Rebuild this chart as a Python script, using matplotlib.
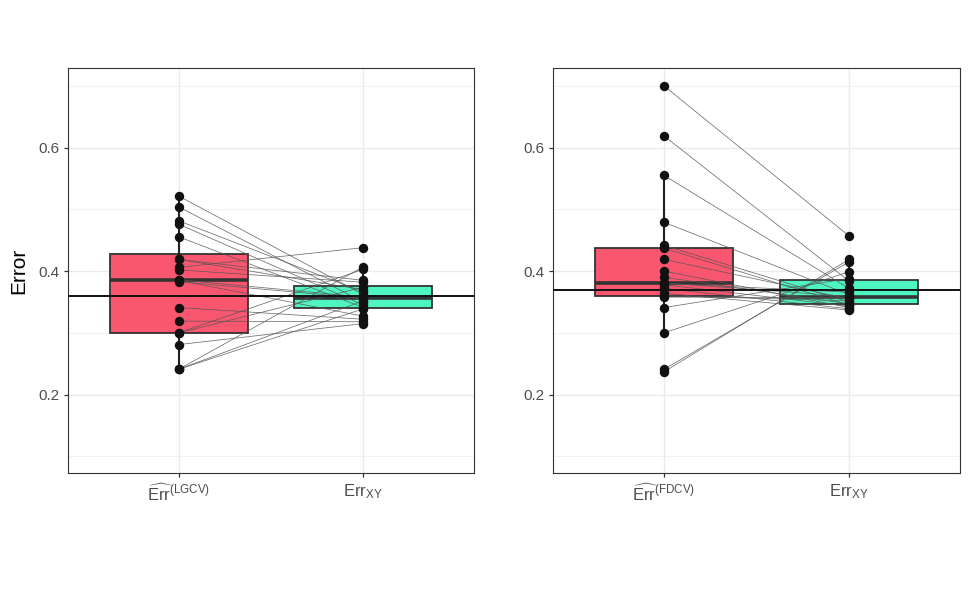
import numpy as np
import matplotlib.pyplot as plt

plt.rcParams['font.family'] = ['Liberation Sans', 'DejaVu Sans']
plt.rcParams['mathtext.fontset'] = 'custom'
plt.rcParams['mathtext.rm'] = 'Liberation Sans'
plt.rcParams['mathtext.it'] = 'Liberation Sans:italic'
plt.rcParams['mathtext.bf'] = 'Liberation Sans:bold'

# ----- datos (pares estimado -> verdadero) -----
lgcv_est = [0.5216, 0.504, 0.4815, 0.476, 0.4556, 0.419, 0.419, 0.406, 0.402, 0.386,
            0.385, 0.383, 0.341, 0.319, 0.300, 0.300, 0.281, 0.241, 0.241, 0.241]
lgcv_xy = [0.362, 0.350, 0.366, 0.345, 0.341, 0.385, 0.370, 0.438, 0.382, 0.358,
           0.327, 0.356, 0.322, 0.318, 0.374, 0.403, 0.315, 0.407, 0.352, 0.339]

fdcv_est = [0.700, 0.619, 0.555, 0.479, 0.4416, 0.437, 0.419, 0.400, 0.390, 0.381,
            0.380, 0.378, 0.372, 0.364, 0.360, 0.358, 0.341, 0.300, 0.241, 0.237]
fdcv_xy = [0.457, 0.384, 0.372, 0.362, 0.350, 0.345, 0.355, 0.341, 0.347, 0.359,
           0.366, 0.343, 0.339, 0.337, 0.352, 0.357, 0.388, 0.399, 0.415, 0.419]

left_labels = [r'$\widehat{\mathrm{Err}}^{(\mathrm{LGCV})}$', r'$\mathrm{Err}_{\mathrm{XY}}$']
right_labels = [r'$\widehat{\mathrm{Err}}^{(\mathrm{FDCV})}$', r'$\mathrm{Err}_{\mathrm{XY}}$']

y_ticks = [0.2, 0.4, 0.6]
y_minor = [0.1, 0.3, 0.5, 0.7]

RED = '#F9576F'
TEAL = '#4FF5C1'


def draw_panel(ax, est, truth, labels):
    est = np.asarray(est)
    truth = np.asarray(truth)

    for y in y_minor:
        ax.axhline(y, color='#F0F0F0', lw=0.6, zorder=0)
    for y in y_ticks:
        ax.axhline(y, color='#EBEBEB', lw=1.0, zorder=0)
    for x in (1, 2):
        ax.axvline(x, color='#EBEBEB', lw=1.0, zorder=0)

    bp = ax.boxplot([est, truth], positions=[1, 2], widths=0.75, patch_artist=True,
                    showfliers=False, showcaps=False,
                    boxprops=dict(edgecolor='#333333', lw=1.3),
                    whiskerprops=dict(color='#222222', lw=1.5),
                    medianprops=dict(color='#333333', lw=2.6),
                    zorder=1)
    for patch, c in zip(bp['boxes'], [RED, TEAL]):
        patch.set_facecolor(c)

    for a, b in zip(est, truth):
        ax.plot([1, 2], [a, b], color='#555555', lw=0.55, alpha=0.85, zorder=2)

    ax.axhline(truth.mean(), color='#111111', lw=1.4, zorder=3)

    ax.scatter(np.ones(len(est)), est, s=46, color='#111111', zorder=5, lw=0)
    ax.scatter(np.full(len(truth), 2), truth, s=46, color='#111111', zorder=5, lw=0)

    ax.set_xlim(0.4, 2.6)
    ax.set_ylim(0.073, 0.729)
    ax.set_xticks([1, 2])
    ax.set_xticklabels(labels)
    ax.set_yticks(y_ticks)
    ax.set_yticklabels([f'{v:.1f}' for v in y_ticks])
    ax.tick_params(direction='out', length=3, width=0.9, color='#333333',
                   labelcolor='#4D4D4D', labelsize=11, pad=3)
    ax.tick_params(axis='x', labelsize=12, pad=4)
    for s in ax.spines.values():
        s.set_color('#333333')
        s.set_linewidth(0.8)


fig = plt.figure(figsize=(9.7, 5.99), dpi=100)
ax1 = fig.add_axes([68 / 970, 126 / 599, 406 / 970, 405 / 599])
ax2 = fig.add_axes([553 / 970, 126 / 599, 407 / 970, 405 / 599])

draw_panel(ax1, lgcv_est, lgcv_xy, left_labels)
draw_panel(ax2, fdcv_est, fdcv_xy, right_labels)

fig.text(0.0196, 0.548, 'Error', rotation=90, ha='center', va='center', fontsize=15)

fig.savefig('out.png', dpi=100)
